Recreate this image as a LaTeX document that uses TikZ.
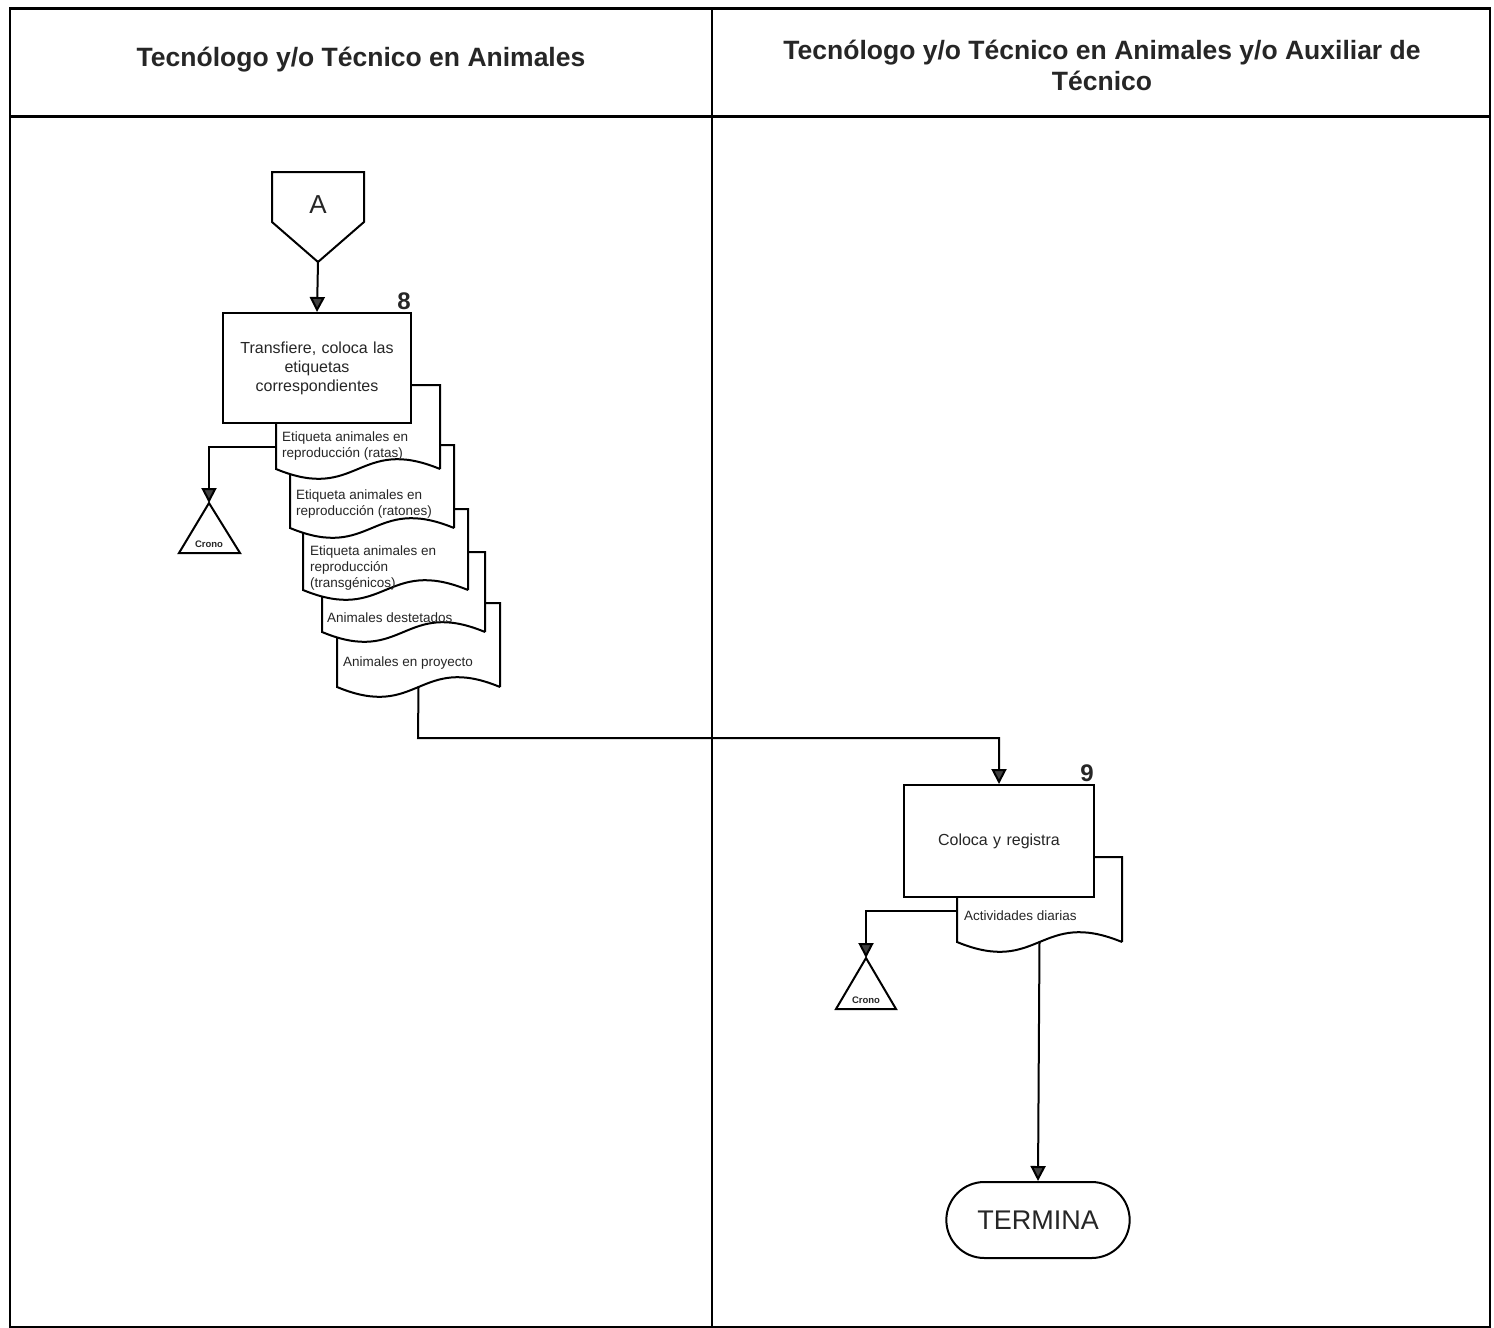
\documentclass[tikz,border=0pt]{standalone}
\usepackage{fontspec}
\setmainfont{Liberation Sans}
\usetikzlibrary{arrows.meta,positioning,calc,shapes.misc}
\definecolor{inkgray}{HTML}{262626}
\definecolor{tipgray}{HTML}{404040}
\tikzset{
  lanetitle/.style={font=\bfseries\fontsize{26.5}{31}\selectfont, align=center, text=inkgray},
  procbox/.style={draw, line width=2pt, fill=white, minimum width=188pt, minimum height=110pt, text width=172pt, align=center, font=\fontsize{16}{19}\selectfont, text=inkgray},
  docshape/.style={draw, line width=2pt, fill=white},
  doctext/.style={anchor=north west, inner sep=0pt, align=left, font=\fontsize{13.5}{16}\selectfont, text=inkgray},
  stepnum/.style={font=\bfseries\fontsize{24}{24}\selectfont, text=inkgray},
  cronotext/.style={font=\bfseries\fontsize{9.5}{10}\selectfont, text=inkgray},
  flow/.style={line width=2pt, -{Triangle[width=15pt,length=15pt,fill=tipgray]}},
  endbox/.style={draw, line width=2pt, rounded rectangle, minimum width=190pt, minimum height=76pt, font=\fontsize{27}{27}\selectfont, text=inkgray}
}
\begin{document}
\begin{tikzpicture}[x=1pt,y=-1pt]
  \useasboundingbox[fill=white] (0,0) rectangle (1494,1328);
  % swimlanes
  \draw[line width=2pt] (10,8) rectangle (1490,1327);
  \draw[line width=3pt] (10,8) -- (1490,8);
  \draw[line width=3pt] (10,116) -- (1490,116);
  \draw[line width=2pt] (712,8) -- (712,1327);
  \node[lanetitle] (lane1) at (361,60) {Tecnólogo y/o Técnico en Animales};
  \node[lanetitle] (lane2) at (1102,65) {Tecnólogo y/o Técnico en Animales y/o Auxiliar de\\Técnico};

  % off-page connector
  \draw[line width=2pt] (272,172) -- (364,172) -- (364,222) -- (318,262) -- (272,222) -- cycle;
  \node[font=\fontsize{26}{26}\selectfont, text=inkgray] (conA) at (318,205) {A};
  \coordinate (conAtip) at (318,262);

  % documents of step 8, back to front
  \foreach \l/\r/\t/\b/\n in {337/500/603/687/d5, 322/485/552/632/d4,
      303/468/509/590/d3, 290/454/445/528/d2, 276/440/385/469/d1}{
    \draw[docshape] (\r,\b) -- (\r,\t) -- (\l,\t) -- (\l,\b)
      .. controls ({(\l+\r)/2},{\b+34}) and ({(\l+\r)/2},{\b-34}) .. (\r,\b);
    \coordinate (\n-mid) at ({(\l+\r)/2},\b);
  }
  \node[doctext] (t5) at (343,657) {Animales en proyecto};
  \node[doctext] (t4) at (327,613) {Animales destetados};
  \node[doctext] (t3) at (310,546) {Etiqueta animales en\\reproducción\\(transgénicos)};
  \node[doctext] (t2) at (296,490) {Etiqueta animales en\\reproducción (ratones)};
  \node[doctext] (t1) at (282,432) {Etiqueta animales en\\reproducción (ratas)};

  \node[procbox] (box8) at (317,368) {Transfiere, coloca las\\etiquetas\\correspondientes};
  \node[stepnum] (num8) at (404,301) {8};

  % file 1
  \coordinate (d1w) at (276,447);
  \draw[line width=2pt, fill=white] (209,503) -- (240,553) -- (179,553) -- cycle;
  \coordinate (crono1) at (209,503);
  \node[cronotext] (crono1lbl) at (209,544) {Crono};

  % step 9
  \draw[docshape] (1122,942) -- (1122,857) -- (957,857) -- (957,942)
    .. controls (1039.5,976) and (1039.5,908) .. (1122,942);
  \coordinate (d6-mid) at (1039.5,942);
  \node[doctext] (t6) at (964,911) {Actividades diarias};
  \node[procbox, minimum width=190pt, minimum height=112pt] (box9) at (999,841) {Coloca y registra};
  \node[stepnum] (num9) at (1087,773) {9};

  % file 2
  \coordinate (d6w) at (957,911);
  \draw[line width=2pt, fill=white] (866,958) -- (896,1009) -- (836,1009) -- cycle;
  \coordinate (crono2) at (866,958);
  \node[cronotext] (crono2lbl) at (866,1000) {Crono};

  \node[endbox] (fin) at (1038,1220) {TERMINA};

  % connectors
  \coordinate (bend) at (418,738);
  \draw[flow] (conAtip) -- (box8.north);
  \draw[flow] (d1w) -| (crono1);
  \draw[flow] (d5-mid) -- (bend) -| (box9.north);
  \draw[flow] (d6w) -| (crono2);
  \draw[flow] (d6-mid) -- (fin.north);
\end{tikzpicture}
\end{document}
